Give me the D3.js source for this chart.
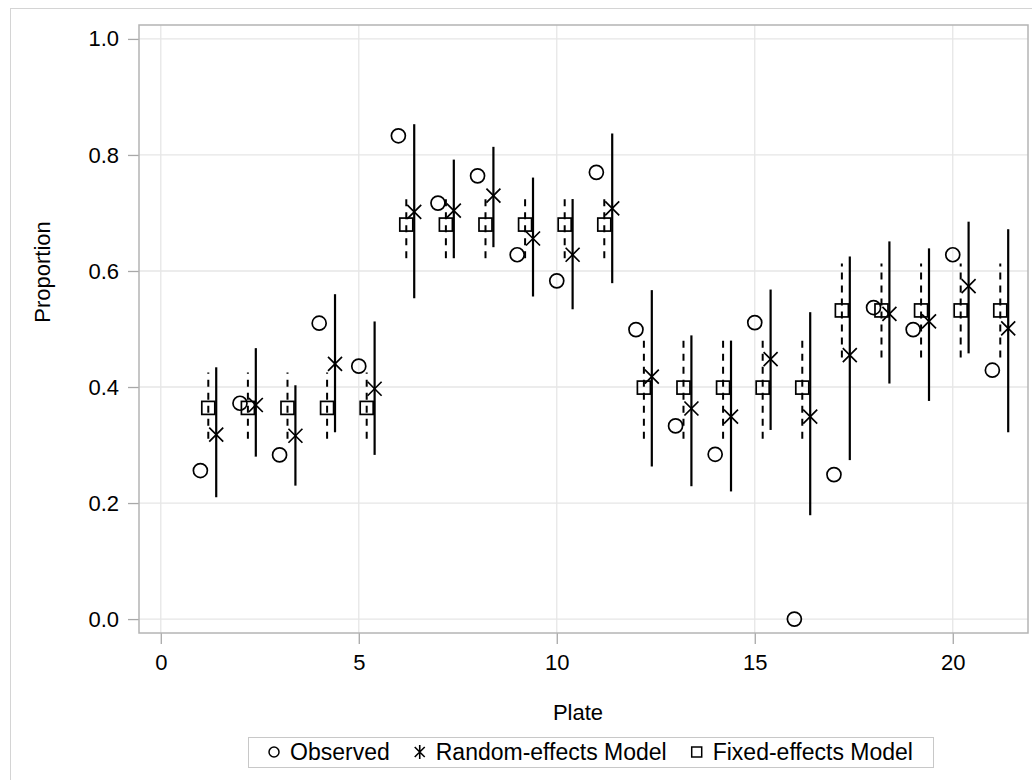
<html>
  <head>
    <script src="https://d3js.org/d3.v7.min.js"></script>
    <style>
      body { margin: 0; background: #fff; }
      text { font-family: "Liberation Sans", Arial, sans-serif; fill: #000; }
    </style>
  </head>

  <body>
    <svg id="vis"></svg>
  </body>

  <script>
    // Data
    var plates = [1, 2, 3, 4, 5, 6, 7, 8, 9, 10, 11, 12, 13, 14, 15, 16, 17, 18, 19, 20, 21]
    var observed = [0.256, 0.372, 0.283, 0.510, 0.436, 0.833, 0.717, 0.764, 0.628, 0.583, 0.770,
                    0.499, 0.333, 0.284, 0.511, 0.000, 0.249, 0.537, 0.499, 0.628, 0.429]
    var randomEst = [0.318, 0.369, 0.316, 0.440, 0.397, 0.702, 0.704, 0.730, 0.656, 0.628, 0.708,
                     0.418, 0.363, 0.349, 0.448, 0.349, 0.455, 0.526, 0.513, 0.574, 0.501]
    var randomLower = [0.210, 0.280, 0.230, 0.322, 0.283, 0.553, 0.622, 0.641, 0.556, 0.534, 0.579,
                       0.263, 0.229, 0.220, 0.326, 0.179, 0.274, 0.406, 0.376, 0.458, 0.322]
    var randomUpper = [0.434, 0.467, 0.403, 0.560, 0.513, 0.853, 0.792, 0.814, 0.761, 0.724, 0.837,
                       0.567, 0.489, 0.480, 0.568, 0.529, 0.625, 0.651, 0.639, 0.685, 0.672]
    var fixedEst = [0.364, 0.364, 0.364, 0.364, 0.364, 0.680, 0.680, 0.680, 0.680, 0.680, 0.680,
                    0.399, 0.399, 0.399, 0.399, 0.399, 0.532, 0.532, 0.532, 0.532, 0.532]
    var fixedLower = [0.311, 0.311, 0.311, 0.311, 0.311, 0.622, 0.622, 0.622, 0.622, 0.622, 0.622,
                      0.311, 0.311, 0.311, 0.311, 0.311, 0.451, 0.451, 0.451, 0.451, 0.451]
    var fixedUpper = [0.425, 0.425, 0.425, 0.425, 0.425, 0.731, 0.731, 0.731, 0.731, 0.731, 0.731,
                      0.490, 0.490, 0.490, 0.490, 0.490, 0.613, 0.613, 0.613, 0.613, 0.613]
    var xTicks = [0, 5, 10, 15, 20]
    var yTicks = [0, 0.2, 0.4, 0.6, 0.8, 1.0]
    var legendLabels = ["Observed", "Random-effects Model", "Fixed-effects Model"]

    var rows = plates.map(function(p, i) {
      return {plate: p, obs: observed[i], re: randomEst[i], reLo: randomLower[i], reHi: randomUpper[i],
              fe: fixedEst[i], feLo: fixedLower[i], feHi: fixedUpper[i]}
    })

    var W = 1032, H = 780
    var frame = {left: 139, top: 25, right: 1028, bottom: 633}

    var svg = d3.select('svg').attr("width", W).attr("height", H)

    // outer border
    svg.append("rect")
      .attr("x", 10.5).attr("y", 8.5).attr("width", W).attr("height", H)
      .attr("fill", "none").attr("stroke", "#d4d4d4")

    var x = d3.scaleLinear().domain([-0.55, 21.9]).range([frame.left, frame.right])
    var y = d3.scaleLinear().domain([-0.024, 1.024]).range([frame.bottom, frame.top])

    // grid
    var grid = svg.append("g")
    grid.selectAll("line.gx").data(xTicks).enter().append("line")
      .attr("x1", d => x(d)).attr("x2", d => x(d))
      .attr("y1", frame.top).attr("y2", frame.bottom)
      .attr("stroke", "#e6e6e6").attr("stroke-width", 1.3)
    grid.selectAll("line.gy").data(yTicks).enter().append("line")
      .attr("y1", d => y(d)).attr("y2", d => y(d))
      .attr("x1", frame.left).attr("x2", frame.right)
      .attr("stroke", "#e6e6e6").attr("stroke-width", 1.3)

    // axes
    svg.append("g")
      .attr("transform", "translate(0," + frame.bottom + ")")
      .call(d3.axisBottom(x).tickValues(xTicks).tickSize(11).tickPadding(10).tickFormat(d3.format("d")))
    svg.append("g")
      .attr("transform", "translate(" + frame.left + ",0)")
      .call(d3.axisLeft(y).tickValues(yTicks).tickSize(11).tickPadding(9).tickFormat(d3.format(".1f")))
    svg.selectAll(".domain").remove()
    svg.selectAll(".tick line").attr("stroke", "#a8a8a8").attr("stroke-width", 1.3)
    svg.selectAll(".tick text").style("font-size", "22px").attr("fill", "#000")

    // frame
    svg.append("rect")
      .attr("x", frame.left).attr("y", frame.top)
      .attr("width", frame.right - frame.left).attr("height", frame.bottom - frame.top)
      .attr("fill", "none").attr("stroke", "#b4b4b4").attr("stroke-width", 1.5)

    // axis titles
    svg.append("text")
      .attr("x", 578).attr("y", 720)
      .attr("text-anchor", "middle").style("font-size", "22px").text("Plate")
    svg.append("text")
      .attr("transform", "translate(50,272) rotate(-90)")
      .attr("text-anchor", "middle").style("font-size", "22px").text("Proportion")

    var marks = svg.append("g")
    var feOff = 0.2, reOff = 0.4

    // fixed-effects CI (dashed)
    marks.selectAll("line.fe").data(rows).enter().append("line")
      .attr("x1", d => x(d.plate + feOff)).attr("x2", d => x(d.plate + feOff))
      .attr("y1", d => y(d.feLo)).attr("y2", d => y(d.feHi))
      .attr("stroke", "#000").attr("stroke-width", 2).attr("stroke-dasharray", "7,6")

    // random-effects CI (solid)
    marks.selectAll("line.re").data(rows).enter().append("line")
      .attr("x1", d => x(d.plate + reOff)).attr("x2", d => x(d.plate + reOff))
      .attr("y1", d => y(d.reLo)).attr("y2", d => y(d.reHi))
      .attr("stroke", "#000").attr("stroke-width", 2.2)

    // observed circles
    marks.selectAll("circle.obs").data(rows).enter().append("circle")
      .attr("cx", d => x(d.plate)).attr("cy", d => y(d.obs)).attr("r", 7)
      .attr("fill", "none").attr("stroke", "#000").attr("stroke-width", 1.7)

    // fixed-effects squares
    var sq = 13
    marks.selectAll("rect.fe").data(rows).enter().append("rect")
      .attr("x", d => x(d.plate + feOff) - sq / 2).attr("y", d => y(d.fe) - sq / 2)
      .attr("width", sq).attr("height", sq)
      .attr("fill", "none").attr("stroke", "#000").attr("stroke-width", 1.7)

    // random-effects X
    var xs = 7
    function xPath(cx, cy) {
      return "M" + (cx - xs) + "," + (cy - xs) + "L" + (cx + xs) + "," + (cy + xs) +
             "M" + (cx - xs) + "," + (cy + xs) + "L" + (cx + xs) + "," + (cy - xs)
    }
    marks.selectAll("path.re").data(rows).enter().append("path")
      .attr("d", d => xPath(x(d.plate + reOff), y(d.re)))
      .attr("fill", "none").attr("stroke", "#000").attr("stroke-width", 1.7)

    // legend
    var lg = {left: 248, top: 737, right: 933, bottom: 767}
    svg.append("rect")
      .attr("x", lg.left + 0.5).attr("y", lg.top + 0.5)
      .attr("width", lg.right - lg.left).attr("height", lg.bottom - lg.top)
      .attr("fill", "#fff").attr("stroke", "#c8c8c8")

    var legend = svg.append("g")
    var cy = (lg.top + lg.bottom) / 2
    var items = legendLabels.map(function(l) {
      var t = legend.append("text").style("font-size", "23px").attr("y", cy + 8).text(l)
      return {label: l, node: t, w: t.node().getComputedTextLength()}
    })
    var symW = 12, symGap = 10, itemGap = 24
    var total = d3.sum(items, d => symW + symGap + d.w) + itemGap * (items.length - 1)
    var cx = (lg.left + lg.right) / 2 - total / 2
    items.forEach(function(it, i) {
      var sx = cx + symW / 2
      if (i === 0) {
        legend.append("circle").attr("cx", sx).attr("cy", cy).attr("r", 5)
          .attr("fill", "none").attr("stroke", "#000").attr("stroke-width", 1.5)
      } else if (i === 1) {
        var s = 5
        legend.append("path")
          .attr("d", "M" + (sx - s) + "," + (cy - s) + "L" + (sx + s) + "," + (cy + s) +
                     "M" + (sx - s) + "," + (cy + s) + "L" + (sx + s) + "," + (cy - s) +
                     "M" + sx + "," + (cy - 7) + "L" + sx + "," + (cy + 7))
          .attr("fill", "none").attr("stroke", "#000").attr("stroke-width", 1.6)
      } else {
        legend.append("rect").attr("x", sx - 5).attr("y", cy - 5).attr("width", 10).attr("height", 10)
          .attr("fill", "none").attr("stroke", "#000").attr("stroke-width", 1.5)
      }
      it.node.attr("x", cx + symW + symGap)
      cx += symW + symGap + it.w + itemGap
    })
  </script>
</html>
